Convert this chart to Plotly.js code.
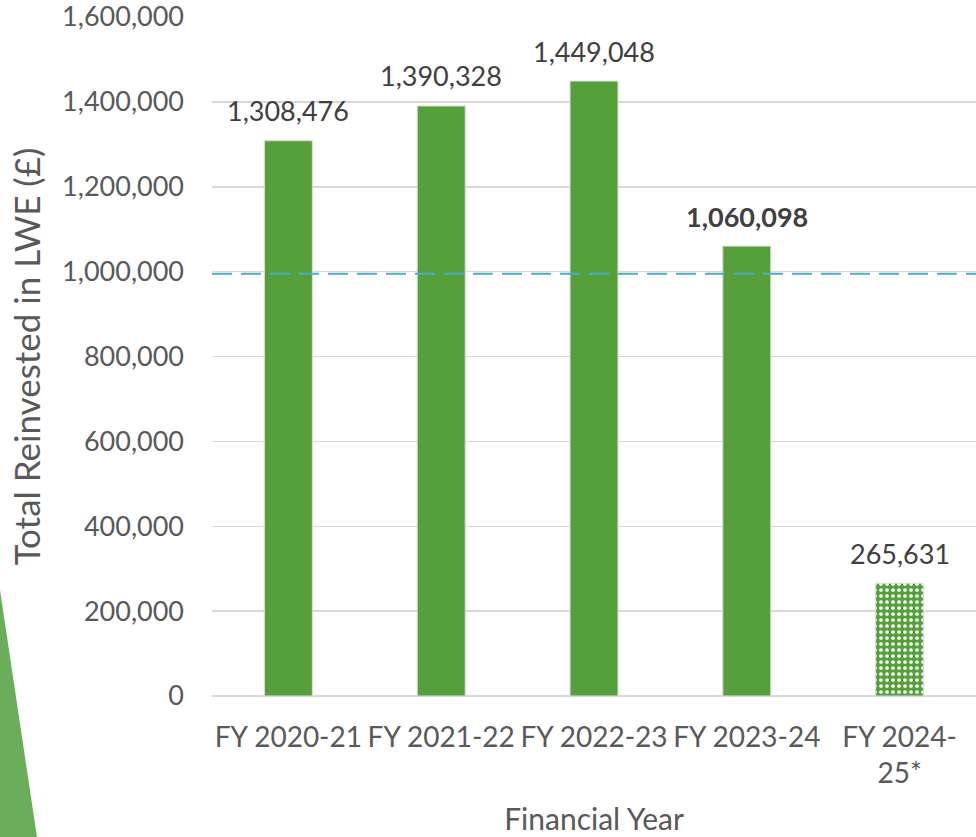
<!DOCTYPE html>
<html>
<head>
<meta charset="utf-8">
<script src="https://cdn.plot.ly/plotly-3.0.1.min.js"></script>
<style>html,body{margin:0;padding:0;background:#fff;}#chart{width:976px;height:837px;}</style>
</head>
<body>
<div id="chart"></div>
<script>
const categories = ['FY 2020-21', 'FY 2021-22', 'FY 2022-23', 'FY 2023-24', 'FY 2024-<br>25*'];
const values = [1308476, 1390328, 1449048, 1060098, 265631];
const labelBold = [false, false, false, true, false];
const patterned = [false, false, false, false, true];
const thresholdValue = 995000;
const yTickVals = [0, 200000, 400000, 600000, 800000, 1000000, 1200000, 1400000, 1600000];

const FONT = 'Lato, "Open Sans", sans-serif';
const TXT = '#404040';
const AX = '#595959';
const GREEN = '#55a03a';

const fmt = v => v.toString().replace(/\B(?=(\d{3})+(?!\d))/g, ',');

const bar = {
  type: 'bar',
  x: categories,
  y: values,
  marker: {
    color: GREEN,
    line: {color: '#dcdcdc', width: 1},
    pattern: {
      shape: patterned.map(p => p ? '.' : ''),
      fgcolor: '#ffffff',
      bgcolor: GREEN,
      size: 6,
      solidity: 0.3
    }
  },
  hoverinfo: 'x+y',
  showlegend: false
};

const threshold = {
  type: 'scatter',
  mode: 'lines',
  x: [0, 1],
  y: [thresholdValue, thresholdValue],
  xaxis: 'x2',
  line: {color: '#4bacc6', width: 2, dash: '20px,9px'},
  hoverinfo: 'skip',
  showlegend: false
};

const annotations = categories.map((c, i) => ({
  x: c,
  y: values[i],
  xref: 'x',
  yref: 'y',
  text: labelBold[i] ? '<b>' + fmt(values[i]) + '</b>' : fmt(values[i]),
  showarrow: false,
  yanchor: 'middle',
  yshift: 30,
  font: {family: FONT, size: 27, color: TXT}
}));

const layout = {
  width: 976,
  height: 837,
  margin: {l: 212, r: 0, t: 17, b: 141},
  paper_bgcolor: '#ffffff',
  plot_bgcolor: '#ffffff',
  bargap: 0.686,
  font: {family: FONT, color: AX, size: 27},
  xaxis: {
    type: 'category',
    showgrid: false,
    showline: false,
    zeroline: false,
    ticks: '',
    ticklabelstandoff: 22,
    tickfont: {family: FONT, size: 28, color: AX},
    title: {text: 'Financial Year', font: {family: FONT, size: 30, color: AX}, standoff: 20},
    automargin: false
  },
  xaxis2: {
    overlaying: 'x',
    range: [0, 1],
    visible: false
  },
  yaxis: {
    range: [0, 1600000],
    tickvals: yTickVals,
    tickformat: ',d',
    showgrid: true,
    gridcolor: '#d9d9d9',
    gridwidth: 1.5,
    zeroline: true,
    zerolinecolor: '#d9d9d9',
    zerolinewidth: 1.5,
    showline: false,
    ticks: '',
    ticklabelstandoff: 27,
    ticklabeloverflow: 'allow',
    tickfont: {family: FONT, size: 27, color: AX},
    title: {text: 'Total Reinvested in LWE (£)', font: {family: FONT, size: 35, color: AX}, standoff: 10},
    automargin: false
  },
  shapes: [{
    type: 'path',
    xref: 'paper',
    yref: 'paper',
    path: 'M -0.30 0.1561 L -0.2775 0.1561 L -0.2291 -0.2077 L -0.30 -0.2077 Z',
    fillcolor: '#6aad5b',
    line: {width: 0},
    layer: 'below'
  }],
  annotations: annotations
};

Plotly.newPlot('chart', [bar, threshold], layout, {displayModeBar: false, staticPlot: true});
</script>
</body>
</html>
